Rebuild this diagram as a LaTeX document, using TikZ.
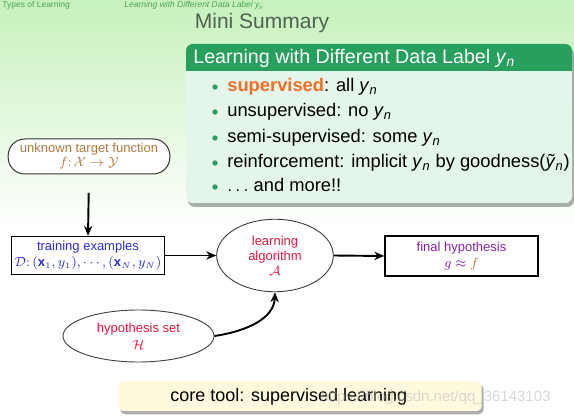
\documentclass[tikz,border=0pt]{standalone}
\usepackage{fontspec}
\setmainfont{Liberation Sans}
\usetikzlibrary{arrows.meta,shapes.geometric,shadows}
\definecolor{bgtop}{RGB}{198,241,188}
\definecolor{headgreen}{RGB}{80,165,80}
\definecolor{titlegray}{RGB}{80,96,82}
\definecolor{blockgreen}{RGB}{38,160,92}
\definecolor{blockbody}{RGB}{228,246,234}
\definecolor{supor}{RGB}{240,110,40}
\definecolor{tbrown}{RGB}{178,122,62}
\definecolor{tblue}{RGB}{45,45,215}
\definecolor{tcrimson}{RGB}{225,25,65}
\definecolor{tpurple}{RGB}{135,35,165}
\definecolor{coreyellow}{RGB}{255,250,222}
\newcommand\yn{\textit{y}\textsubscript{\textit{n}}}
\tikzset{
  hdr/.style={anchor=base west, text=headgreen, font=\fontsize{5.1}{6}\selectfont, inner sep=0},
  itemtext/.style={anchor=base west, inner sep=0, font=\fontsize{11}{13}\selectfont},
  bul/.style={circle, fill=blockgreen, inner sep=0, minimum size=3.2pt},
  diag/.style={font=\fontsize{7.8}{9}\selectfont, align=center, inner sep=0},
  sqbox/.style={draw=black, line width=0.8pt, fill=white, diag},
  ell/.style={ellipse, draw=black!75, line width=0.55pt, fill=white, diag},
  conn/.style={line width=1.15pt, -{Stealth[length=6pt,width=5pt]}},
}
\begin{document}
\begin{tikzpicture}[x=0.6pt,y=-0.6pt]
\useasboundingbox (0,0) rectangle (574,420);
% background
\fill[white] (0,0) rectangle (574,420);
\shade[top color=bgtop, bottom color=white] (0,0) rectangle (574,230);
% header
\node[hdr] (h1) at (2,8) {Types of Learning};
\node[hdr, font=\fontsize{5.1}{6}\selectfont\itshape] (h2) at (124,8) {Learning with Different Data Label \yn};
\node[anchor=base, inner sep=0, text=titlegray, font=\fontsize{12.6}{14}\selectfont] (title) at (262,29) {Mini Summary};
% block
\fill[blockbody, rounded corners=4pt, drop shadow={shadow xshift=1.2pt, shadow yshift=-2.4pt, opacity=0.45, fill=black!70}] (186,44) rectangle (572,203);
\fill[blockgreen, rounded corners=4pt] (186,44) rectangle (572,71);
\fill[blockgreen] (186,60) rectangle (572,71);
\node[anchor=base west, inner sep=0, text=white, font=\fontsize{11.8}{13}\selectfont] (btitle) at (193,64) {Learning with Different Data Label \yn};
\node[bul] (b1) at (215,87) {};
\node[bul] (b2) at (215,112) {};
\node[bul] (b3) at (215,138) {};
\node[bul] (b4) at (215,163) {};
\node[bul] (b5) at (215,187) {};
\node[itemtext] (i1) at (227,92) {\textcolor{supor}{\textbf{supervised}}: all \yn};
\node[itemtext] (i2) at (227,117) {unsupervised: no \yn};
\node[itemtext] (i3) at (227,143) {semi-supervised: some \yn};
\node[itemtext] (i4) at (227,168) {reinforcement: implicit \yn\ by goodness(\textit{\~y}\textsubscript{\textit{n}})};
\node[itemtext] (i5) at (227,192) {$\ldots$ and more!!};
% diagram
\node[sqbox, draw=black!80, line width=0.6pt, rounded corners=10pt, minimum width=97pt, minimum height=21pt, text=tbrown, font=\fontsize{7.8}{8.4}\selectfont] (target) at (89,156.5)
  {unknown target function\\ $f\colon \mathcal{X}\to\mathcal{Y}$};
\node[sqbox, minimum width=91.8pt, minimum height=22.8pt, text=tblue, font=\fontsize{7.8}{10}\selectfont] (train) at (88,255.5)
  {training examples\\ $\mathcal{D}\colon (\mathbf{x}_1,y_1),\cdots,(\mathbf{x}_N,y_N)$};
\node[ell, minimum width=70pt, minimum height=43.5pt, text=tcrimson] (alg) at (275,255.5)
  {learning\\ algorithm\\ $\mathcal{A}$};
\node[sqbox, minimum width=91.8pt, minimum height=24pt, text=tpurple, font=\fontsize{7.8}{9.6}\selectfont] (final) at (461.5,256)
  {final hypothesis\\ $g\approx \textcolor{tbrown}{f}$};
\node[ell, minimum width=90.6pt, minimum height=31.2pt, text=tcrimson, font=\fontsize{7.8}{10}\selectfont] (hyp) at (138.5,336)
  {hypothesis set\\ $\mathcal{H}$};
\draw[conn, shorten <=11pt] (target.south) -- (train.north);
\draw[conn] (train.east) -- (alg.west);
\draw[conn] (alg.east) -- (final.west);
\draw[conn] (hyp.east) .. controls (248,331) and (274,318) .. (alg.south);
% bottom box
\node[fill=coreyellow, rounded corners=3pt, minimum width=218pt, minimum height=18pt, inner sep=0,
  drop shadow={shadow xshift=1.2pt, shadow yshift=-2pt, opacity=0.45, fill=black!70}] (core) at (300,396) {};
\node[anchor=base west, inner sep=0, font=\fontsize{10.8}{12}\selectfont] (coretext) at (170,402) {core tool: supervised learning};
\node[anchor=base west, inner sep=0, text=black!25, opacity=0.6, font=\fontsize{9}{11}\selectfont] (wm) at (320,402) {https://blog.csdn.net/qq\_36143103};
\end{tikzpicture}
\end{document}
